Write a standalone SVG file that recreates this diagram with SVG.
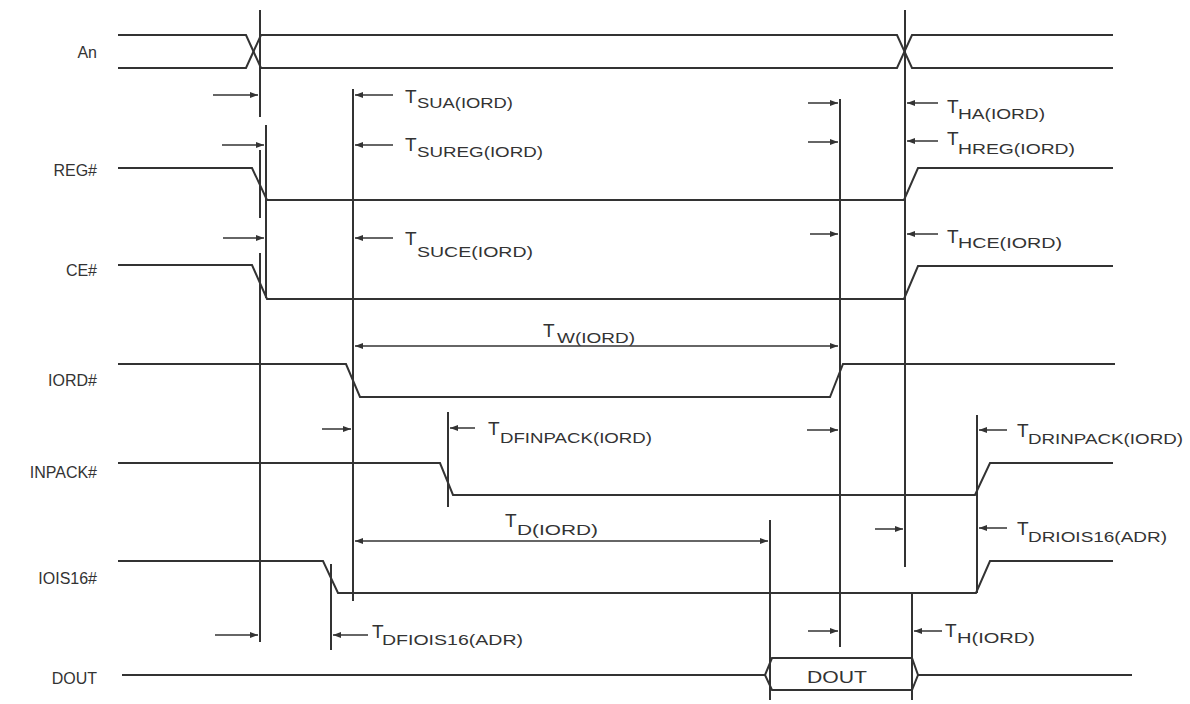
<svg xmlns="http://www.w3.org/2000/svg" width="1190" height="704" viewBox="0 0 1190 704">
<defs>
<marker id="ah" viewBox="0 0 8 6" refX="8" refY="3" markerWidth="8" markerHeight="6" markerUnits="userSpaceOnUse" orient="auto-start-reverse">
<path d="M0,0 L8,3 L0,6 Z" fill="#333"/>
</marker>
<style>
.sig{fill:none;stroke:#333;stroke-width:2;stroke-linejoin:miter}
.v{stroke:#333;stroke-width:2}
.arr{stroke:#333;stroke-width:1.5;marker-end:url(#ah)}
.darr{stroke:#333;stroke-width:1.5;marker-end:url(#ah);marker-start:url(#ah)}
.lbl{font-family:"Liberation Sans",Arial,sans-serif;font-size:16px;fill:#333;text-anchor:end}
.T{font-family:"Liberation Sans",Arial,sans-serif;font-size:19px;fill:#333}
.s{font-family:"Liberation Sans",Arial,sans-serif;font-size:15px;fill:#333}
.dt{font-family:"Liberation Sans",Arial,sans-serif;font-size:17px;fill:#333;text-anchor:middle}
</style>
</defs>
<rect width="1190" height="704" fill="#fff"/>

<g id="sig-An">
<text class="lbl" x="97" y="58">An</text>
<path class="sig" d="M118,35 H246 L261,68 H897 L912,35 H1113"/>
<path class="sig" d="M118,68 H246 L261,35 H897 L912,68 H1113"/>
</g>
<g id="sig-REG">
<text class="lbl" x="97" y="176">REG#</text>
<path class="sig" d="M118,168 H252 L267,200 H904 L918,168 H1113"/>
</g>
<g id="sig-CE">
<text class="lbl" x="97" y="276">CE#</text>
<path class="sig" d="M118,265 H252 L267,299 H904 L918,266 H1113"/>
</g>
<g id="sig-IORD">
<text class="lbl" x="97" y="386">IORD#</text>
<path class="sig" d="M118,364 H346 L360,397 H830 L843,364 H1115"/>
</g>
<g id="sig-INPACK">
<text class="lbl" x="97" y="478">INPACK#</text>
<path class="sig" d="M118,463 H440 L453,495 H975 L990,463 H1113"/>
</g>
<g id="sig-IOIS16">
<text class="lbl" x="97" y="584">IOIS16#</text>
<path class="sig" d="M118,561 H323 L338,593 H976 L990,561 H1113"/>
</g>
<g id="sig-DOUT">
<text class="lbl" x="97" y="684">DOUT</text>
<path class="sig" d="M122,675 H765"/>
<path class="sig" d="M772,658 H912 L918,675 L912,690 H772 L765,675 Z"/>
<path class="sig" d="M918,675 H1132"/>
<text class="dt" x="837" y="683" textLength="60" lengthAdjust="spacingAndGlyphs">DOUT</text>
</g>

<g id="connectors">
<g id="guides">
<line class="v" x1="260" y1="10" x2="260" y2="117"/>
<line class="v" x1="266" y1="125" x2="266" y2="298"/>
<line class="v" x1="260" y1="150" x2="260" y2="218"/>
<line class="v" x1="260" y1="253" x2="260" y2="642"/>
<line class="v" x1="353" y1="89" x2="353" y2="601"/>
<line class="v" x1="840" y1="99" x2="840" y2="647"/>
<line class="v" x1="905" y1="10" x2="905" y2="567"/>
<line class="v" x1="448" y1="412" x2="448" y2="507"/>
<line class="v" x1="977" y1="415" x2="977" y2="593"/>
<line class="v" x1="331" y1="564" x2="331" y2="650"/>
<line class="v" x1="770" y1="520" x2="770" y2="700"/>
<line class="v" x1="912" y1="592" x2="912" y2="700"/>
</g>
<g id="ticks">
<line class="arr" x1="213" y1="95" x2="258" y2="95"/>
<line class="arr" x1="222" y1="145" x2="264" y2="145"/>
<line class="arr" x1="223" y1="238" x2="264" y2="238"/>
<line class="arr" x1="215" y1="635" x2="258" y2="635"/>
<line class="arr" x1="322" y1="429" x2="351" y2="429"/>
<line class="arr" x1="808" y1="103" x2="838" y2="103"/>
<line class="arr" x1="808" y1="142" x2="838" y2="142"/>
<line class="arr" x1="810" y1="234" x2="838" y2="234"/>
<line class="arr" x1="807" y1="430" x2="838" y2="430"/>
<line class="arr" x1="808" y1="631" x2="838" y2="631"/>
<line class="arr" x1="875" y1="529" x2="903" y2="529"/>
<line class="arr" x1="393" y1="95" x2="355" y2="95"/>
<line class="arr" x1="393" y1="145" x2="355" y2="145"/>
<line class="arr" x1="393" y1="238" x2="355" y2="238"/>
<line class="arr" x1="938" y1="103" x2="907" y2="103"/>
<line class="arr" x1="938" y1="141" x2="907" y2="141"/>
<line class="arr" x1="938" y1="234" x2="907" y2="234"/>
<line class="arr" x1="475" y1="428" x2="450" y2="428"/>
<line class="arr" x1="1007" y1="430" x2="979" y2="430"/>
<line class="arr" x1="1007" y1="528" x2="979" y2="528"/>
<line class="arr" x1="368" y1="635" x2="333" y2="635"/>
<line class="arr" x1="942" y1="631" x2="914" y2="631"/>
<line class="darr" x1="355" y1="346" x2="838" y2="346"/>
<line class="darr" x1="355" y1="541" x2="768" y2="541"/>
</g>
</g>

<g id="timing-labels">
<g id="t-sua"><text class="T" x="405" y="103">T</text><text class="s" x="417" y="108" textLength="96" lengthAdjust="spacingAndGlyphs">SUA(IORD)</text></g>
<g id="t-sureg"><text class="T" x="405" y="151">T</text><text class="s" x="417" y="157" textLength="126" lengthAdjust="spacingAndGlyphs">SUREG(IORD)</text></g>
<g id="t-suce"><text class="T" x="405" y="245">T</text><text class="s" x="417" y="257" textLength="116" lengthAdjust="spacingAndGlyphs">SUCE(IORD)</text></g>
<g id="t-ha"><text class="T" x="947" y="113">T</text><text class="s" x="958" y="119" textLength="87" lengthAdjust="spacingAndGlyphs">HA(IORD)</text></g>
<g id="t-hreg"><text class="T" x="947" y="145">T</text><text class="s" x="958" y="154" textLength="117" lengthAdjust="spacingAndGlyphs">HREG(IORD)</text></g>
<g id="t-hce"><text class="T" x="947" y="243">T</text><text class="s" x="958" y="248" textLength="104" lengthAdjust="spacingAndGlyphs">HCE(IORD)</text></g>
<g id="t-w"><text class="T" x="543" y="337">T</text><text class="s" x="557" y="343" textLength="78" lengthAdjust="spacingAndGlyphs">W(IORD)</text></g>
<g id="t-dfinpack"><text class="T" x="488" y="435">T</text><text class="s" x="500" y="443" textLength="152" lengthAdjust="spacingAndGlyphs">DFINPACK(IORD)</text></g>
<g id="t-drinpack"><text class="T" x="1017" y="437">T</text><text class="s" x="1028" y="444" textLength="155" lengthAdjust="spacingAndGlyphs">DRINPACK(IORD)</text></g>
<g id="t-drioisl6"><text class="T" x="1017" y="535">T</text><text class="s" x="1028" y="542" textLength="139" lengthAdjust="spacingAndGlyphs">DRIOIS16(ADR)</text></g>
<g id="t-d"><text class="T" x="505" y="527">T</text><text class="s" x="517" y="535" textLength="81" lengthAdjust="spacingAndGlyphs">D(IORD)</text></g>
<g id="t-dfioisl6"><text class="T" x="372" y="638">T</text><text class="s" x="382" y="645" textLength="141" lengthAdjust="spacingAndGlyphs">DFIOIS16(ADR)</text></g>
<g id="t-h"><text class="T" x="945" y="637">T</text><text class="s" x="957" y="643" textLength="78" lengthAdjust="spacingAndGlyphs">H(IORD)</text></g>
</g>
</svg>
